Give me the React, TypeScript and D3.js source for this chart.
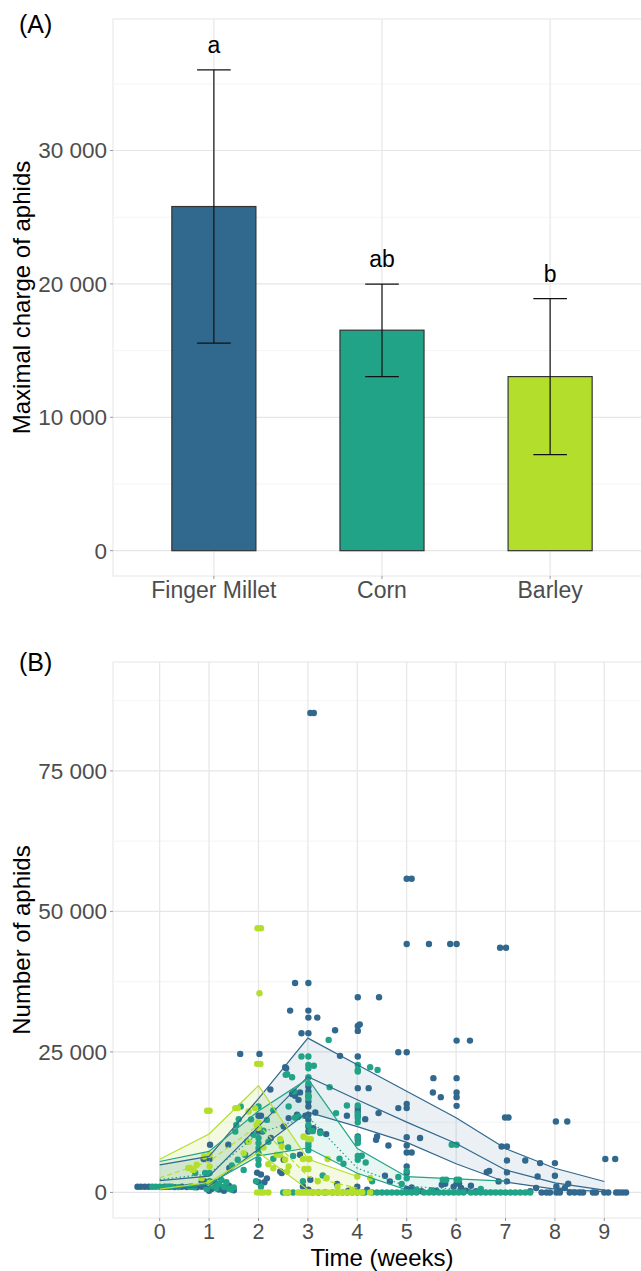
import * as d3 from "d3";

// ---------- panel A: maximal aphid load per crop ----------
const crops = ["Finger Millet", "Corn", "Barley"];
const cropColors = ["#31688e", "#20a386", "#b4de2c"];
const maxCharge = [25800, 16530, 13050];
const chargeLow = [15560, 13050, 7200];
const chargeHigh = [36040, 19990, 18900];
const letters = ["a", "ab", "b"];
const chargeTicks = [0, 10000, 20000, 30000];

// ---------- panel B: aphids over time ----------
const weekTicks = [0, 1, 2, 3, 4, 5, 6, 7, 8, 9];
const aphidTicks = [0, 25000, 50000, 75000];

// model fits: upper / middle / lower per week
const fmWeeks = [0, 1, 2, 3, 4, 5, 6, 7, 8, 9];
const fmUpper = [4900, 6400, 16700, 27450, 22700, 18000, 13300, 7800, 4300, 1950];
const fmMid = [2100, 2900, 11700, 20600, 16500, 12500, 8700, 4000, 1700, 400];
const fmLower = [600, 1100, 7700, 14300, 11700, 8900, 5100, 1850, 600, 150];

const cornWeeks = [0, 1, 2, 3, 4, 5, 6, 7];
const cornUpper = [5500, 7300, 14500, 20200, 7800, 2800, 2400, 2000];
const cornMid = [2300, 3300, 10500, 13500, 4300, 1100, 600, 300];
const cornLower = [500, 1500, 6500, 7900, 3400, 450, 100, 0];

const barleyWeeks = [0, 1, 2, 3, 4];
const barleyUpper = [5900, 10400, 19000, 5940, 2840];
const barleyMid = [2600, 5500, 12000, 2840, 780];
const barleyLower = [600, 1800, 7100, 480, 0];

// observed counts [week (jittered), aphids]
const fmPoints = [
  [-0.45, 1000], [-0.38, 1000], [-0.3, 1000], [-0.22, 1000], [0.1, 1000], [0.2, 1000], [0.3, 950],
  [0.45, 1000], [0.55, 950], [0.65, 1000], [0.75, 900], [0.85, 1000],
  [0.89, 5940], [1.01, 5940], [1.02, 8480], [0.85, 1960], [0.9, 2000], [1.0, 800], [1.05, 600],
  [1.1, 1000], [1.2, 500], [1.25, 900], [1.35, 700], [1.45, 800], [1.5, 400], [1.0, 300],
  [1.15, 1500], [0.95, 1200], [1.3, 300], [1.4, 1200],
  [1.39, 8480], [1.41, 4350], [1.63, 24650], [2.02, 24650], [2.24, 18300], [1.97, 3500], [2.05, 3200],
  [2.0, 1800], [2.12, 1800], [2.17, 2500], [2.0, 13630], [2.05, 13630], [2.0, 11440], [2.0, 10840],
  [2.08, 10840], [2.25, 9670], [2.47, 3450],
  [2.74, 37270], [3.01, 37270], [2.64, 32350], [3.01, 32350], [3.01, 31100], [3.19, 31100],
  [2.87, 28330], [3.01, 28330], [3.55, 28860], [3.65, 24300], [2.56, 22100], [2.54, 22290],
  [2.74, 17190], [2.81, 16470], [2.68, 17500], [2.84, 17800], [3.01, 18840], [3.01, 17950],
  [3.01, 17060], [3.01, 16170], [3.01, 15280], [3.15, 14220], [2.78, 13810], [2.61, 13220],
  [2.95, 13630], [3.01, 13810], [3.01, 12920], [3.01, 11730], [3.01, 10840], [3.11, 11440],
  [3.25, 10840], [3.37, 10380], [2.51, 11730], [2.51, 5810], [2.84, 6700], [2.44, 3730],
  [2.9, 1070], [3.01, 480], [3.05, 2260], [3.21, 0], [3.59, 1500], [3.82, 300], [3.05, 85300], [3.12, 85300],
  [3.79, 13630], [4.01, 13630], [4.16, 13040], [4.01, 15000], [4.01, 14400], [4.01, 18550], [4.23, 18550],
  [4.01, 24170], [4.01, 29620], [4.05, 29900], [4.01, 28740], [4.01, 34730], [4.44, 34730],
  [4.43, 14110], [4.4, 9950], [4.38, 9370], [4.01, 9950], [4.01, 9370], [4.63, 8350], [4.56, 2960],
  [4.66, 1960], [4.0, 1000], [4.2, 500],
  [4.83, 24950], [5.0, 24950], [5.0, 15760], [5.0, 15000], [4.83, 15000], [5.27, 9670], [5.0, 9830],
  [5.0, 8350], [5.0, 7110], [5.1, 7110], [5.0, 4620], [5.0, 3450], [5.0, 55800], [5.1, 55800],
  [5.0, 44200], [5.45, 44200], [5.0, 600], [5.05, 300], [5.1, 900], [5.54, 20330], [5.53, 17770],
  [5.69, 16950], [5.71, 1370], [5.78, 1550], [5.6, 300], [5.3, 200],
  [5.88, 44200], [6.01, 44200], [6.01, 27010], [6.28, 27010], [6.01, 20330], [6.01, 17770],
  [6.01, 16950], [6.01, 15400], [6.01, 1600], [6.06, 1600], [5.95, 1000], [6.1, 800], [6.3, 1200],
  [6.62, 3620], [6.67, 3800], [6.4, 200], [6.2, 300],
  [6.89, 43540], [7.01, 43540], [6.99, 13330], [7.06, 13330], [6.92, 8180], [7.03, 8180],
  [7.03, 5690], [7.4, 5690], [7.03, 3560], [7.03, 1960], [6.86, 1960], [7.7, 5220], [7.65, 2840],
  [7.62, 780], [7.73, 0], [7.83, 0], [7.9, 0], [7.5, 200],
  [8.02, 12620], [8.25, 12620], [8.0, 5220], [8.0, 2960], [8.03, 1070], [8.27, 1550], [8.2, 800],
  [8.03, 0], [8.1, 0], [8.3, 0], [8.4, 0], [8.5, 0], [8.57, 0], [8.77, 0], [8.83, 0], [9.0, 0],
  [9.08, 0], [9.24, 0], [9.3, 0], [9.37, 0], [9.44, 0], [9.02, 5940], [9.22, 5940], [8.1, 300],
];

const cornPoints = [
  [-0.15, 1000], [-0.08, 1000], [0.0, 1000], [0.05, 950], [0.15, 1000], [0.25, 1000], [0.38, 950],
  [0.6, 1000], [0.7, 900],
  [0.72, 3450], [0.92, 3450], [1.01, 3450], [1.01, 2000], [1.1, 1800], [1.2, 1500], [1.25, 2200],
  [1.3, 1000], [1.4, 700], [1.45, 500], [1.15, 700], [1.05, 1200], [1.35, 1800], [0.95, 600], [1.5, 900],
  [1.46, 4800], [1.53, 10840], [1.55, 12000], [1.58, 5810], [1.6, 13040], [1.64, 15290], [1.7, 4000],
  [1.73, 6700], [1.77, 9060], [1.9, 10250], [2.0, 15290], [2.0, 9670], [2.0, 8780], [2.0, 7890],
  [2.0, 7000], [2.0, 5810], [2.0, 4930], [2.1, 11000], [2.17, 12900], [2.3, 14600], [2.2, 9000],
  [2.3, 6000], [1.85, 13000], [1.95, 2000], [2.05, 1000], [2.5, 0],
  [2.55, 20920], [2.58, 21040], [2.68, 20500], [2.61, 15290], [2.72, 17950], [2.87, 24170],
  [3.01, 24170], [3.01, 22700], [3.01, 22100], [3.12, 22530], [3.01, 20500], [3.01, 19400],
  [3.01, 17300], [3.01, 16800], [3.44, 18730], [3.42, 27140], [2.81, 13500], [2.74, 13300],
  [3.01, 12000], [3.05, 11000], [3.1, 10900], [3.25, 10560], [3.57, 14110], [3.01, 8700],
  [3.01, 8200], [3.01, 7500], [2.6, 8000], [2.7, 6500], [2.45, 9000], [3.64, 6010], [3.72, 5100],
  [3.3, 3000], [2.9, 2000],
  [3.79, 15460], [4.01, 15460], [4.01, 13990], [4.01, 13220], [4.01, 12480], [4.26, 22290],
  [4.41, 21800], [4.01, 22700], [4.01, 21800], [4.01, 21500], [4.01, 9770], [4.01, 8780],
  [4.09, 6520], [4.17, 5330], [4.01, 6500], [4.01, 5810], [4.3, 2000],
  [4.83, 2740], [5.0, 2500], [5.0, 3800], [4.9, 1500], [5.91, 8480], [6.01, 8480], [5.73, 2260],
  [5.8, 2260], [6.01, 2260], [6.06, 2260], [5.2, 500], [5.5, 400], [6.5, 600],
  [2.6, 0], [2.7, 0], [3.1, 0], [3.35, 0], [3.5, 0], [3.6, 0], [3.7, 0], [3.8, 0], [3.9, 0], [4.0, 0],
  [4.1, 0], [4.15, 0], [4.3, 0], [4.4, 0], [4.5, 0], [4.6, 0], [4.7, 0], [4.8, 0], [4.9, 0], [5.0, 0],
  [5.1, 0], [5.2, 0], [5.35, 0], [5.45, 0], [5.55, 0], [5.65, 0], [5.75, 0], [5.85, 0], [5.95, 0],
  [6.05, 0], [6.15, 0], [6.3, 0], [6.4, 0], [6.5, 0], [6.6, 0], [6.7, 0], [6.8, 0], [6.9, 0],
  [7.0, 0], [7.1, 0], [7.2, 0], [7.3, 0], [7.4, 0], [7.5, 0],
];

const barleyPoints = [
  [0.58, 4340], [0.62, 4340], [0.67, 4030], [0.69, 4030], [0.75, 4920], [1.01, 6700], [1.01, 4620],
  [1.01, 1670], [0.96, 14520], [1.01, 14520], [0.85, 2500], [0.9, 6400],
  [1.53, 15000], [1.58, 15000], [1.8, 14400], [1.93, 15000], [1.97, 22870], [2.04, 22870],
  [2.02, 35440], [1.98, 47000], [2.05, 47000], [2.0, 12500], [1.96, 12000], [2.0, 11500],
  [2.1, 8000], [2.2, 5000], [2.3, 4300], [2.37, 6700], [2.44, 6700], [1.97, 0], [2.05, 0],
  [2.1, 0], [2.2, 0], [1.8, 9000], [1.7, 7000],
  [2.44, 9480], [2.47, 8180], [2.54, 5810], [2.58, 3730], [2.61, 4620], [2.93, 9840], [3.01, 9480],
  [3.06, 9480], [2.91, 9950], [3.01, 5940], [2.9, 5940], [3.03, 5940], [2.93, 4160], [3.01, 4160],
  [3.4, 5940], [3.38, 2560], [3.2, 2000],
  [2.55, 0], [2.6, 0], [2.8, 0], [2.85, 0], [2.9, 0], [2.95, 0], [3.0, 0], [3.05, 0], [3.1, 0],
  [3.2, 0], [3.3, 0], [3.4, 0], [3.5, 0], [3.6, 0], [3.7, 0], [3.8, 0], [3.9, 0], [4.0, 0],
  [4.1, 0], [4.26, 0], [4.0, 2840], [4.26, 2560], [3.6, 1000], [3.9, 500],
];

const font = "'Liberation Sans', Arial, sans-serif";
const tickColor = "#4d4d4d";
const gridMajor = "#e6e6e6";
const gridMinor = "#f1f1f1";
const fmtNum = (v: number) => d3.format(",")(v).replace(/,/g, " ");

const W = 641;
const H = 1271;
const left = 113;
const right = 651;

function PanelA() {
  const top = 19;
  const bottom = 576;
  const x = d3.scalePoint<string>().domain(crops).range([left, right]).padding(0.6);
  const y = d3.scaleLinear().domain([-1898, 39858]).range([bottom, top]);
  const bw = x.step() * 0.5;
  const ew = x.step() * 0.2;
  const minor = [5000, 15000, 25000, 35000];
  return (
    <g>
      <rect x={left} y={top} width={right - left} height={bottom - top} fill="#fff" stroke={gridMajor} />
      {minor.map((v) => (
        <line key={"m" + v} x1={left} x2={right} y1={y(v)} y2={y(v)} stroke={gridMinor} strokeWidth={0.8} />
      ))}
      {chargeTicks.map((v) => (
        <line key={"g" + v} x1={left} x2={right} y1={y(v)} y2={y(v)} stroke={gridMajor} strokeWidth={1.2} />
      ))}
      {crops.map((c) => (
        <line key={"v" + c} x1={x(c)} x2={x(c)} y1={top} y2={bottom} stroke={gridMajor} strokeWidth={1.2} />
      ))}
      {crops.map((c, i) => (
        <rect
          key={"b" + c}
          x={(x(c) as number) - bw / 2}
          y={y(maxCharge[i])}
          width={bw}
          height={y(0) - y(maxCharge[i])}
          fill={cropColors[i]}
          stroke="#333"
          strokeWidth={1.2}
        />
      ))}
      {crops.map((c, i) => {
        const cx = x(c) as number;
        return (
          <g key={"e" + c} stroke="#111" strokeWidth={1.2}>
            <line x1={cx} x2={cx} y1={y(chargeHigh[i])} y2={y(chargeLow[i])} />
            <line x1={cx - ew / 2} x2={cx + ew / 2} y1={y(chargeHigh[i])} y2={y(chargeHigh[i])} />
            <line x1={cx - ew / 2} x2={cx + ew / 2} y1={y(chargeLow[i])} y2={y(chargeLow[i])} />
          </g>
        );
      })}
      {crops.map((c, i) => (
        <text key={"l" + c} x={x(c)} y={y(chargeHigh[i]) - 17} textAnchor="middle" fontSize={23} fill="#000">
          {letters[i]}
        </text>
      ))}
      {chargeTicks.map((v) => (
        <g key={"t" + v}>
          <line x1={left - 3} x2={left} y1={y(v)} y2={y(v)} stroke="#999" />
          <text x={left - 6} y={y(v)} dy="0.35em" textAnchor="end" fontSize={22.5} fill={tickColor}>
            {fmtNum(v)}
          </text>
        </g>
      ))}
      {crops.map((c) => (
        <g key={"xt" + c}>
          <line x1={x(c)} x2={x(c)} y1={bottom} y2={bottom + 3} stroke="#999" />
          <text x={x(c)} y={598} textAnchor="middle" fontSize={23} fill={tickColor}>
            {c}
          </text>
        </g>
      ))}
      <text transform={`translate(30,${(top + bottom) / 2}) rotate(-90)`} textAnchor="middle" fontSize={24}>
        Maximal charge of aphids
      </text>
      <text x={19} y={33} fontSize={25}>(A)</text>
    </g>
  );
}

function PanelB() {
  const top = 662;
  const bottom = 1218;
  const x = d3.scaleLinear().domain([-0.945, 9.945]).range([left, right]);
  const y = d3.scaleLinear().domain([-4550, 94370]).range([bottom, top]);
  const minor = [12500, 37500, 62500, 87500];

  const fits = [
    { weeks: fmWeeks, up: fmUpper, mid: fmMid, lo: fmLower, dash: undefined, fill: 0.1 },
    { weeks: cornWeeks, up: cornUpper, mid: cornMid, lo: cornLower, dash: "1.5,2.5", fill: 0.1 },
    { weeks: barleyWeeks, up: barleyUpper, mid: barleyMid, lo: barleyLower, dash: "5,3", fill: 0.14 },
  ];
  const pts = [fmPoints, cornPoints, barleyPoints];

  const ribbon = (f: (typeof fits)[number]) =>
    d3
      .area<number>()
      .x((w) => x(w))
      .y0((_, i) => y(f.lo[i]))
      .y1((_, i) => y(f.up[i]))(f.weeks);

  const path = (weeks: number[], vals: number[]) =>
    d3
      .line<number>()
      .x((w) => x(w))
      .y((_, i) => y(vals[i]))(weeks);

  return (
    <g>
      <defs>
        <clipPath id="clipB">
          <rect x={left} y={top} width={right - left} height={bottom - top} />
        </clipPath>
      </defs>
      <rect x={left} y={top} width={right - left} height={bottom - top} fill="#fff" stroke={gridMajor} />
      {minor.map((v) => (
        <line key={"m" + v} x1={left} x2={right} y1={y(v)} y2={y(v)} stroke={gridMinor} strokeWidth={0.8} />
      ))}
      {aphidTicks.map((v) => (
        <line key={"g" + v} x1={left} x2={right} y1={y(v)} y2={y(v)} stroke={gridMajor} strokeWidth={1.2} />
      ))}
      {weekTicks.map((w) => (
        <line key={"v" + w} x1={x(w)} x2={x(w)} y1={top} y2={bottom} stroke={gridMajor} strokeWidth={1.2} />
      ))}
      <g clipPath="url(#clipB)">
        {fits.map((f, i) => (
          <path key={"r" + i} d={ribbon(f) || ""} fill={cropColors[i]} fillOpacity={f.fill} />
        ))}
        {pts.map((arr, i) => (
          <g key={"p" + i} fill={cropColors[i]}>
            {arr.map((p, j) => (
              <circle key={j} cx={x(p[0])} cy={y(p[1])} r={3.2} />
            ))}
          </g>
        ))}
        {fits.map((f, i) => (
          <g key={"l" + i} fill="none" stroke={cropColors[i]} strokeWidth={1.2}>
            <path d={path(f.weeks, f.up) || ""} />
            <path d={path(f.weeks, f.lo) || ""} />
            <path d={path(f.weeks, f.mid) || ""} strokeDasharray={f.dash} />
          </g>
        ))}
      </g>
      {aphidTicks.map((v) => (
        <g key={"t" + v}>
          <line x1={left - 3} x2={left} y1={y(v)} y2={y(v)} stroke="#999" />
          <text x={left - 6} y={y(v)} dy="0.35em" textAnchor="end" fontSize={22.5} fill={tickColor}>
            {fmtNum(v)}
          </text>
        </g>
      ))}
      {weekTicks.map((w) => (
        <g key={"xt" + w}>
          <line x1={x(w)} x2={x(w)} y1={bottom} y2={bottom + 3} stroke="#999" />
          <text x={x(w)} y={1239} textAnchor="middle" fontSize={21.5} fill={tickColor}>
            {w}
          </text>
        </g>
      ))}
      <text x={(left + right) / 2} y={1266} textAnchor="middle" fontSize={24}>
        Time (weeks)
      </text>
      <text transform={`translate(30,${(top + bottom) / 2}) rotate(-90)`} textAnchor="middle" fontSize={24}>
        Number of aphids
      </text>
      <text x={19} y={671} fontSize={25}>(B)</text>
    </g>
  );
}

export default function App() {
  return (
    <svg
      width={W}
      height={H}
      viewBox={`0 0 ${W} ${H}`}
      style={{ position: "absolute", left: 0, top: 0, background: "#fff", fontFamily: font }}
    >
      <rect width={W} height={H} fill="#fff" />
      <PanelA />
      <PanelB />
    </svg>
  );
}
